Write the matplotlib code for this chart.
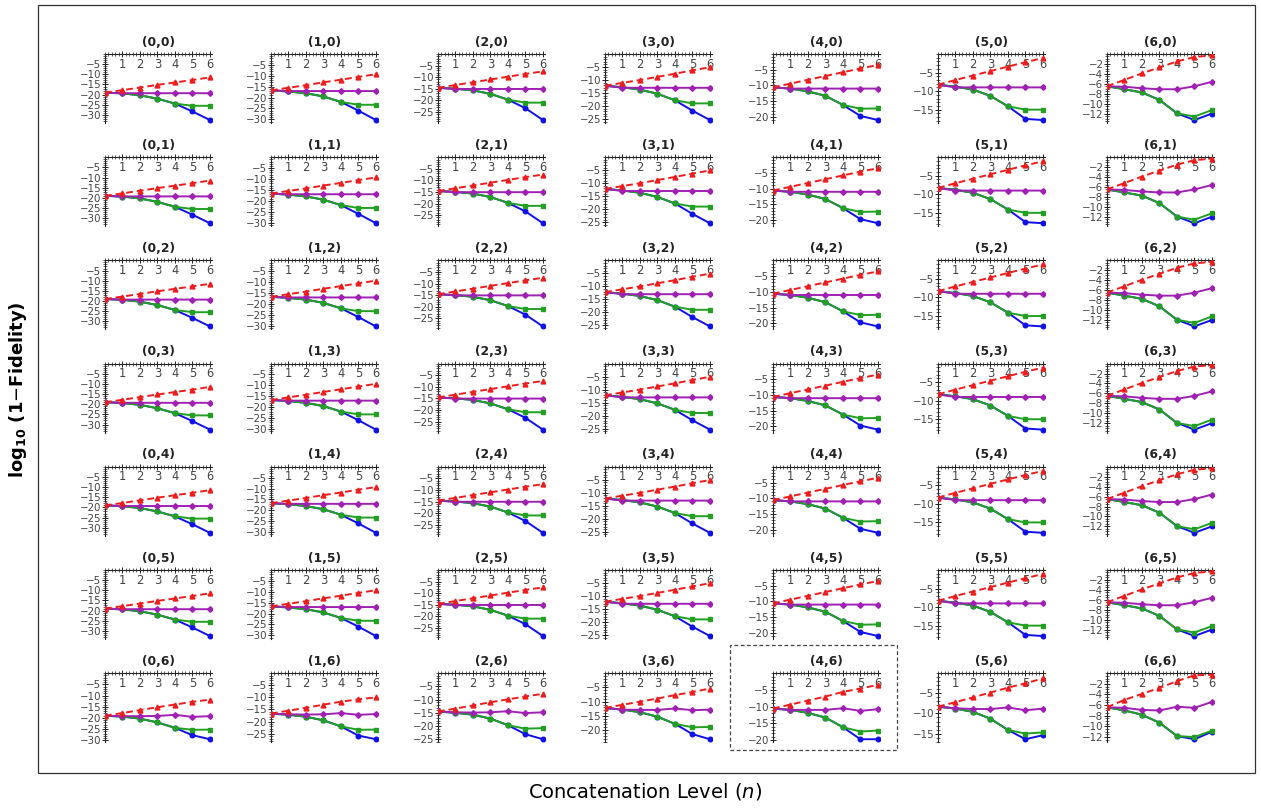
import matplotlib
matplotlib.use("Agg")
import matplotlib.pyplot as plt
from matplotlib.ticker import FixedLocator, MultipleLocator
from matplotlib.patches import Rectangle

# ---------------- data ----------------
LEVELS = [0, 1, 2, 3, 4, 5, 6]
X_TICKS = [1, 2, 3, 4, 5, 6]
Y_STEP = [5, 5, 5, 5, 5, 5, 2]          # y tick step for each column (first index)

# rows 0..5 (second index) share these curves; index = first index (column)
RED = [
    [-19.0, -17.8, -16.5, -15.2, -14.0, -12.8, -11.5],
    [-16.7, -15.5, -14.3, -13.0, -11.8, -10.5, -9.3],
    [-14.6, -13.4, -12.2, -11.0, -9.8, -8.6, -7.5],
    [-12.2, -11.1, -10.0, -8.8, -7.6, -6.3, -5.1],
    [-10.6, -9.4, -8.2, -7.0, -5.8, -4.6, -3.5],
    [-8.3, -7.0, -5.8, -4.6, -3.4, -2.2, -1.1],
    [-6.5, -5.2, -3.9, -2.7, -1.5, -0.6, -0.3],
]
PURPLE = [
    [-19.0, -19.3, -19.3, -19.3, -19.3, -19.3, -19.3],
    [-16.7, -17.0, -17.0, -17.0, -17.0, -17.0, -17.0],
    [-14.6, -15.1, -15.1, -15.1, -15.1, -15.1, -15.1],
    [-12.2, -13.0, -13.0, -13.0, -13.0, -13.0, -13.0],
    [-10.6, -11.0, -11.0, -11.0, -11.0, -11.0, -11.0],
    [-8.3, -9.0, -9.0, -9.0, -9.0, -9.0, -9.0],
    [-6.5, -6.6, -6.9, -7.1, -7.1, -6.5, -5.6],
]
GREEN = [
    [-19.0, -19.4, -20.3, -22.0, -24.4, -25.5, -25.5],
    [-16.7, -17.2, -18.0, -19.5, -22.0, -23.3, -23.3],
    [-14.6, -15.0, -15.7, -17.2, -19.7, -21.0, -21.0],
    [-12.2, -12.8, -13.7, -15.3, -17.8, -19.0, -19.0],
    [-10.6, -11.0, -11.9, -13.3, -16.2, -17.4, -17.3],
    [-8.3, -8.8, -9.6, -11.3, -14.1, -15.0, -15.0],
    [-6.5, -7.1, -7.75, -9.25, -11.95, -12.6, -11.3],
]
BLUE = [
    [-19.0, -19.4, -20.3, -22.0, -24.4, -28.3, -32.5],
    [-16.7, -17.2, -18.0, -19.5, -22.0, -26.0, -30.3],
    [-14.6, -15.0, -15.7, -17.2, -19.7, -23.4, -28.5],
    [-12.2, -12.8, -13.7, -15.3, -17.8, -21.8, -25.4],
    [-10.6, -11.0, -11.9, -13.3, -16.2, -19.7, -21.0],
    [-8.3, -8.8, -9.6, -11.3, -14.1, -17.5, -17.8],
    [-6.5, -7.1, -7.75, -9.25, -11.95, -13.3, -12.0],
]
# last row (second index = 6)
RED_LAST = [
    [-19.0, -17.8, -16.5, -15.2, -14.0, -12.8, -11.8],
    [-16.7, -15.5, -14.3, -13.0, -11.8, -10.8, -10.0],
    [-14.5, -13.4, -12.2, -11.0, -9.9, -8.8, -7.8],
    [-12.2, -11.1, -10.0, -8.9, -7.7, -6.6, -5.4],
    [-10.6, -9.4, -8.2, -7.0, -5.6, -4.6, -3.5],
    [-8.3, -7.2, -6.0, -4.8, -3.6, -2.5, -1.3],
    [-6.4, -5.0, -3.9, -2.75, -1.5, -0.4, -0.3],
]
PURPLE_LAST = [
    [-19.0, -19.2, -19.2, -19.1, -18.6, -19.5, -19.2],
    [-16.7, -17.0, -17.1, -17.0, -16.5, -17.2, -16.9],
    [-14.5, -14.8, -14.9, -14.8, -14.4, -15.1, -14.8],
    [-12.2, -12.8, -12.9, -12.9, -12.4, -13.0, -12.8],
    [-10.6, -11.0, -11.0, -11.0, -10.5, -11.3, -10.8],
    [-8.3, -8.7, -8.9, -8.9, -8.5, -9.2, -8.8],
    [-6.4, -6.5, -6.9, -7.0, -6.3, -6.5, -5.4],
]
GREEN_LAST = [
    [-19.0, -19.4, -20.3, -22.0, -24.4, -25.3, -25.2],
    [-16.7, -17.2, -18.0, -19.5, -22.0, -23.4, -23.3],
    [-14.5, -15.0, -15.7, -17.2, -19.7, -21.0, -20.8],
    [-12.2, -12.8, -13.7, -15.3, -17.8, -19.0, -18.9],
    [-10.6, -11.0, -11.9, -13.3, -16.2, -17.5, -17.2],
    [-8.3, -8.8, -9.6, -11.3, -14.1, -15.0, -14.7],
    [-6.4, -7.0, -7.8, -9.3, -11.8, -12.0, -10.8],
]
BLUE_LAST = [
    [-19.0, -19.4, -20.3, -22.0, -24.4, -27.7, -29.5],
    [-16.7, -17.2, -18.0, -19.5, -22.0, -25.8, -27.3],
    [-14.5, -15.0, -15.7, -17.2, -19.7, -23.1, -25.0],
    [-12.2, -12.8, -13.7, -15.3, -17.8, -21.4, -23.2],
    [-10.6, -11.0, -11.9, -13.3, -16.2, -19.8, -19.8],
    [-8.3, -8.8, -9.6, -11.3, -14.1, -16.4, -15.4],
    [-6.4, -7.0, -7.8, -9.3, -11.8, -12.4, -11.0],
]

RED_C = "#ee1c1c"
PURPLE_C = "#a020b4"
GREEN_C = "#22a022"
BLUE_C = "#1010e8"

# ---------------- layout (pixels) ----------------
W, H = 1261, 810
COL_X = [105, 271, 438, 605, 773, 938, 1107]
ROW_TOP0 = 54
ROW_STEP = 103.2
AX_W = 107
AX_H = 69

fig = plt.figure(figsize=(W / 100, H / 100), dpi=100)


def fx(px):
    return px / W


def fy(py):
    return 1 - py / H


for i in range(7):
    for j in range(7):
        last = (j == 6)
        red = RED_LAST[i] if last else RED[i]
        pur = PURPLE_LAST[i] if last else PURPLE[i]
        grn = GREEN_LAST[i] if last else GREEN[i]
        blu = BLUE_LAST[i] if last else BLUE[i]

        top = ROW_TOP0 + j * ROW_STEP
        ax = fig.add_axes([fx(COL_X[i]), fy(top + AX_H), AX_W / W, AX_H / H])
        ax.patch.set_alpha(0)

        ax.plot(LEVELS, blu, color=BLUE_C, lw=1.4, marker="o", ms=3.3, zorder=3)
        ax.plot(LEVELS, grn, color=GREEN_C, lw=1.4, marker="s", ms=3.3, zorder=4)
        ax.plot(LEVELS, pur, color=PURPLE_C, lw=1.4, marker="D", ms=2.9, zorder=5)
        ax.plot(LEVELS, red, color=RED_C, lw=1.4, ls=(0, (3.5, 2)), marker="^", ms=3.5, zorder=6)

        lo = min(min(blu), min(grn), min(pur), min(red))
        ymin = lo * 1.045
        ax.set_ylim(ymin, 0)
        ax.set_xlim(0, 6.12)

        for s in ("bottom", "right"):
            ax.spines[s].set_visible(False)
        for s in ("left", "top"):
            ax.spines[s].set_linewidth(0.8)
            ax.spines[s].set_color("#222222")

        step = Y_STEP[i]
        yt = []
        k = 1
        while -step * k >= ymin:
            yt.append(-step * k)
            k += 1
        ax.yaxis.set_major_locator(FixedLocator(yt))
        ax.yaxis.set_minor_locator(MultipleLocator(1 if step == 5 else 0.5))
        ax.xaxis.set_major_locator(FixedLocator(X_TICKS))
        ax.xaxis.set_minor_locator(MultipleLocator(0.2))

        ax.xaxis.set_ticks_position("top")
        ax.tick_params(axis="x", which="both", direction="inout", top=True, bottom=False,
                       labeltop=True, labelbottom=False, pad=-14, labelsize=8.3,
                       labelcolor="#444444", color="#222222")
        ax.tick_params(axis="x", which="major", length=4, width=0.7)
        ax.tick_params(axis="x", which="minor", length=2.2, width=0.5)
        ax.tick_params(axis="y", which="both", direction="inout", left=True, right=False,
                       labelsize=7.4, labelcolor="#444444", pad=0.5, color="#222222")
        ax.tick_params(axis="y", which="major", length=4, width=0.7)
        ax.tick_params(axis="y", which="minor", length=2.2, width=0.5)

        ax.set_title(f"({i},{j})", fontsize=8.8, fontweight="bold", y=1.0, pad=6,
                     color="#222222")

# outer frame
fig.patches.append(Rectangle((fx(38), fy(773)), fx(1255) - fx(38), fy(5) - fy(773),
                             transform=fig.transFigure, fill=False, ec="#333333", lw=0.9))
# dashed highlight box around (4,6)
fig.patches.append(Rectangle((fx(730), fy(750)), fx(897) - fx(730), fy(645) - fy(750),
                             transform=fig.transFigure, fill=False, ec="#444444", lw=0.9,
                             ls=(0, (3, 2))))

fig.text(fx(18), fy(390), r"$\mathbf{log_{10}}$ (1$-$Fidelity)", rotation=90,
         ha="center", va="center", fontsize=13, fontweight="bold")
fig.text(fx(645), fy(791), r"Concatenation Level ($n$)", ha="center", va="center",
         fontsize=14)

fig.savefig("out.png", dpi=100)
